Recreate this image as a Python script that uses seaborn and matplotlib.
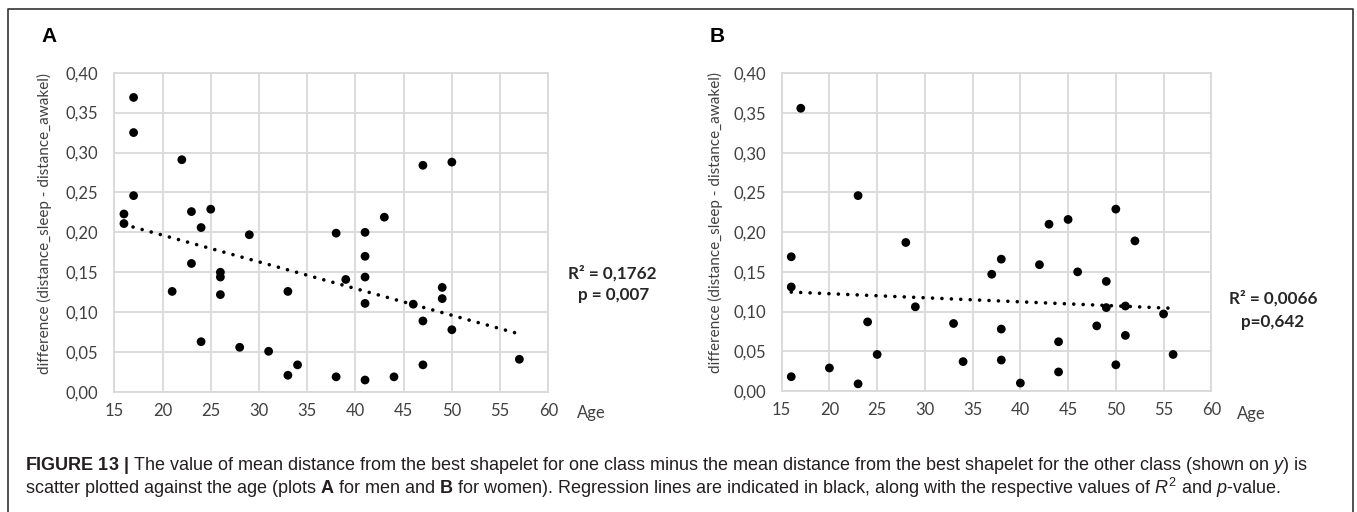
import matplotlib
matplotlib.use("Agg")
import matplotlib.pyplot as plt
from matplotlib.lines import Line2D
import pandas as pd
import seaborn as sns

# Men: age vs. difference of mean shapelet distances
age_men = [16, 16, 17, 17, 17, 21, 22, 23, 23, 24, 24, 25, 26, 26, 26, 28, 29, 31, 33, 33,
           34, 38, 38, 39, 41, 41, 41, 41, 41, 43, 44, 46, 47, 47, 47, 49, 49, 50, 50, 57]
diff_men = [0.223, 0.211, 0.369, 0.325, 0.246, 0.126, 0.291, 0.226, 0.161, 0.206,
            0.063, 0.229, 0.150, 0.144, 0.122, 0.056, 0.197, 0.051, 0.126, 0.021,
            0.034, 0.199, 0.019, 0.141, 0.200, 0.170, 0.144, 0.111, 0.015, 0.219,
            0.019, 0.110, 0.284, 0.089, 0.034, 0.131, 0.117, 0.288, 0.078, 0.041]

# Women: age vs. difference of mean shapelet distances
age_women = [16, 16, 16, 17, 20, 23, 23, 24, 25, 28, 29, 33, 34, 37, 38, 38, 38, 40, 42, 43,
             44, 44, 45, 46, 48, 49, 49, 50, 50, 51, 51, 52, 55, 56]
diff_women = [0.169, 0.131, 0.018, 0.356, 0.029, 0.246, 0.009, 0.087, 0.046, 0.187,
              0.106, 0.085, 0.037, 0.147, 0.166, 0.078, 0.039, 0.010, 0.159, 0.210,
              0.062, 0.024, 0.216, 0.150, 0.082, 0.138, 0.105, 0.229, 0.033, 0.107,
              0.070, 0.189, 0.097, 0.046]

panel_letters = ["A", "B"]
stats_men = ["R² = 0,1762", "p = 0,007"]
stats_women = ["R² = 0,0066", "p=0,642"]

x_ticks = [15, 20, 25, 30, 35, 40, 45, 50, 55, 60]
y_ticks = [0.00, 0.05, 0.10, 0.15, 0.20, 0.25, 0.30, 0.35, 0.40]
y_tick_labels = ["0,00", "0,05", "0,10", "0,15", "0,20", "0,25", "0,30", "0,35", "0,40"]
y_label = "difference (distance_sleep - distance_awakel)"
x_label = "Age"

caption_1 = (r"$\mathbf{FIGURE\ 13\ |}$ The value of mean distance from the best shapelet for one class "
             r"minus the mean distance from the best shapelet for the other class (shown on $y$) is")
caption_2 = (r"scatter plotted against the age (plots $\mathbf{A}$ for men and $\mathbf{B}$ for women). "
             r"Regression lines are indicated in black, along with the respective values of $R^2$ and $p$-value.")

sns.set_style("white")
plt.rcParams["font.family"] = ["Lato", "DejaVu Sans"]
plt.rcParams["mathtext.fontset"] = "custom"
plt.rcParams["mathtext.rm"] = "Liberation Sans"
plt.rcParams["mathtext.it"] = "Liberation Sans:italic"
plt.rcParams["mathtext.bf"] = "Liberation Sans:bold"

W, H = 1357, 512
fig = plt.figure(figsize=(W / 100, H / 100), dpi=100)


def px_rect(x0, y_top, x1, y_bottom):
    return [x0 / W, 1 - y_bottom / H, (x1 - x0) / W, (y_bottom - y_top) / H]


ax_a = fig.add_axes(px_rect(114.3, 72.7, 548.3, 392))
ax_b = fig.add_axes(px_rect(781.7, 73.3, 1211.3, 391))

grid_col = "#d9d9d9"
text_col = "#404040"


def draw_panel(ax, ages, diffs, ylab_x, age_x, age_y):
    df = pd.DataFrame({"age": ages, "diff": diffs})
    sns.regplot(data=df, x="age", y="diff", ax=ax, ci=None, truncate=True,
                scatter_kws=dict(s=40, color="black", edgecolor="none", alpha=1, zorder=3),
                line_kws=dict(color="black", lw=2.6, linestyle=(0, (0.01, 2.6)),
                              dash_capstyle="round", zorder=2))
    ax.set_xlim(15, 60)
    ax.set_ylim(0, 0.40)
    ax.set_xticks(x_ticks)
    ax.set_xticklabels([str(t) for t in x_ticks])
    ax.set_yticks(y_ticks)
    ax.set_yticklabels(y_tick_labels)
    ax.tick_params(axis="both", length=0, labelsize=12, colors=text_col)
    ax.tick_params(axis="x", pad=8.2)
    ax.tick_params(axis="y", pad=11.5)
    ax.grid(True, color=grid_col, lw=1.3)
    ax.set_axisbelow(True)
    for sp in ax.spines.values():
        sp.set_visible(True)
        sp.set_color(grid_col)
        sp.set_linewidth(1.3)
    ax.set_ylabel(y_label, fontsize=11, color=text_col, ha="center", va="center")
    ax.yaxis.set_label_coords(ylab_x, 0.529)
    ax.set_xlabel(x_label, fontsize=12, color=text_col, ha="left", va="center")
    ax.xaxis.set_label_coords(age_x, age_y)


draw_panel(ax_a, age_men, diff_men, -0.162, 1.066, -0.066)
draw_panel(ax_b, age_women, diff_women, -0.155, 1.060, -0.072)

# Fit statistics next to each panel
stat_style = dict(ha="center", va="center", fontsize=12.3, fontweight="bold", color="#262626")
fig.text(612.5 / W, 1 - 273 / H, stats_men[0], **stat_style)
fig.text(614 / W, 1 - 295 / H, stats_men[1], **stat_style)
fig.text(1273 / W, 1 - 298 / H, stats_women[0], **stat_style)
fig.text(1273 / W, 1 - 322 / H, stats_women[1], **stat_style)

# Panel letters
letter_style = dict(ha="left", va="center", fontsize=15, fontweight="bold",
                    family="Liberation Sans", color="black")
fig.text(41.7 / W, 1 - 36.5 / H, panel_letters[0], **letter_style)
fig.text(709.3 / W, 1 - 36.5 / H, panel_letters[1], **letter_style)

# Caption
cap_style = dict(ha="left", va="center", fontsize=13, family="Liberation Sans", color="#231f20")
fig.text(25 / W, 1 - 465 / H, caption_1, **cap_style)
fig.text(25 / W, 1 - 488 / H, caption_2, **cap_style)

# Frame around the figure
fig.add_artist(Line2D([8 / W, 8 / W, 1353 / W, 1353 / W], [0, 1 - 9 / H, 1 - 9 / H, 0],
                      transform=fig.transFigure, color="#333333", lw=1.2))

fig.savefig("out.png", dpi=100)
